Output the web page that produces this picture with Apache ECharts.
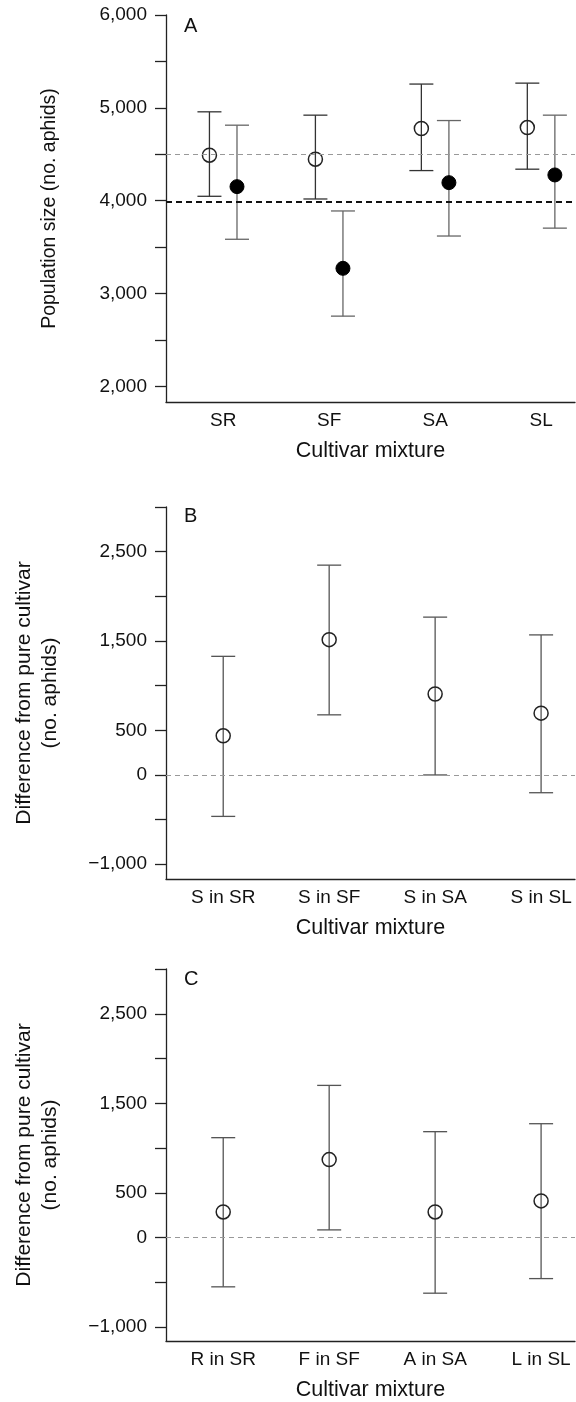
<!DOCTYPE html>
<html>
<head>
<meta charset="utf-8">
<script src="https://cdn.jsdelivr.net/npm/echarts@6/dist/echarts.min.js"></script>
<style>
  html, body { margin: 0; padding: 0; background: #fff; }
  #chart { width: 576px; height: 1402px; }
</style>
</head>
<body>
<div id="chart"></div>
<script>
// categories
const mixturesA = ["SR", "SF", "SA", "SL"];
const mixturesB = ["S in SR", "S in SF", "S in SA", "S in SL"];
const mixturesC = ["R in SR", "F in SF", "A in SA", "L in SL"];
const positions = [1, 2, 3, 4];

// panel A: open circles
const openMean = [4490, 4447, 4777, 4787];
const openLow = [4047, 4018, 4324, 4339];
const openHigh = [4957, 4921, 5256, 5266];
// panel A: filled circles
const filledMean = [4151, 3271, 4194, 4277];
const filledLow = [3584, 2756, 3619, 3704];
const filledHigh = [4813, 3889, 4863, 4921];
// panel A reference lines
const refGrayA = 4500;
const refBlackA = 3985;

// panel B
const diffBMean = [438, 1515, 906, 692];
const diffBLow = [-464, 673, 0, -199];
const diffBHigh = [1328, 2349, 1767, 1568];

// panel C
const diffCMean = [287, 871, 287, 410];
const diffCLow = [-550, 86, -621, -458];
const diffCHigh = [1116, 1700, 1183, 1272];

// tick values
const ticksA = [2000, 2500, 3000, 3500, 4000, 4500, 5000, 5500, 6000];
const labelsA = [2000, 3000, 4000, 5000, 6000];
const ticksBC = [-1000, -500, 0, 500, 1000, 1500, 2000, 2500, 3000];
const labelsBC = [-1000, 0, 500, 1500, 2500];

const FONT = "Liberation Sans, Arial, sans-serif";
const AXIS = "#222";

const chart = echarts.init(document.getElementById("chart"));

function fmt(v) {
  return (v < 0 ? "\u2212" : "") + Math.abs(v).toLocaleString("en-US");
}

function xAxisFor(idx, names) {
  return {
    type: "value",
    gridIndex: idx,
    min: 0.46,
    max: 4.32,
    splitLine: { show: false },
    axisLine: { onZero: false, lineStyle: { color: AXIS, width: 1.3 } },
    axisTick: { show: false },
    axisLabel: {
      customValues: positions,
      formatter: (v) => names[Math.round(v) - 1],
      color: "#111",
      fontSize: 19,
      fontFamily: FONT,
      margin: 9,
    },
    name: "Cultivar mixture",
    nameLocation: "middle",
    nameGap: 38,
    nameTextStyle: { color: "#111", fontSize: 21.5, fontFamily: FONT },
  };
}

function yAxisFor(idx, min, max, ticks, labels, name, size) {
  return {
    type: "value",
    gridIndex: idx,
    min: min,
    max: max,
    splitLine: { show: false },
    axisLine: { show: true, onZero: false, lineStyle: { color: AXIS, width: 1.3 } },
    axisTick: {
      show: true,
      customValues: ticks,
      length: 11,
      lineStyle: { color: AXIS, width: 1.3 },
    },
    axisLabel: {
      customValues: labels,
      formatter: fmt,
      color: "#111",
      fontSize: 19,
      fontFamily: FONT,
      margin: 19,
    },
    name: name,
    nameLocation: "middle",
    nameGap: 103,
    nameTextStyle: { color: "#111", fontSize: size, fontFamily: FONT, lineHeight: 26 },
  };
}

// vertical whiskers with caps
function errorBars(gi, xs, lo, hi, color) {
  return {
    type: "custom",
    xAxisIndex: gi,
    yAxisIndex: gi,
    silent: true,
    z: 2,
    data: xs.map((x, i) => [x, lo[i], hi[i]]),
    encode: { x: 0, y: [1, 2] },
    renderItem: (params, api) => {
      const x = api.value(0);
      const top = api.coord([x, api.value(2)]);
      const bot = api.coord([x, api.value(1)]);
      const w = 12;
      const style = { stroke: color, lineWidth: 1.3 };
      return {
        type: "group",
        children: [
          { type: "line", shape: { x1: top[0], y1: top[1], x2: bot[0], y2: bot[1] }, style },
          { type: "line", shape: { x1: top[0] - w, y1: top[1], x2: top[0] + w, y2: top[1] }, style },
          { type: "line", shape: { x1: bot[0] - w, y1: bot[1], x2: bot[0] + w, y2: bot[1] }, style },
        ],
      };
    },
  };
}

function points(gi, xs, ys, filled, markLine) {
  const s = {
    type: "scatter",
    xAxisIndex: gi,
    yAxisIndex: gi,
    symbol: "circle",
    symbolSize: 14,
    z: 3,
    data: xs.map((x, i) => [x, ys[i]]),
    itemStyle: filled
      ? { color: "#000", borderColor: "#000", borderWidth: 1, opacity: 1 }
      : { color: "rgba(0,0,0,0)", borderColor: "#222", borderWidth: 1.5, opacity: 1 },
  };
  if (markLine) s.markLine = markLine;
  return s;
}

function dashed(value, color, width, dash) {
  return { yAxis: value, lineStyle: { color: color, width: width, type: dash } };
}

const markBase = { symbol: ["none", "none"], silent: true, label: { show: false }, animation: false };

const xsOpen = positions.map((p) => p - 0.13);
const xsFilled = positions.map((p) => p + 0.13);

const option = {
  animation: false,
  backgroundColor: "#fff",
  grid: [
    { left: 166, width: 409, top: 15, height: 387 },
    { left: 166, width: 409, top: 507, height: 372 },
    { left: 166, width: 409, top: 969, height: 375 },
  ],
  xAxis: [xAxisFor(0, mixturesA), xAxisFor(1, mixturesB), xAxisFor(2, mixturesC)],
  yAxis: [
    yAxisFor(0, 1831, 6000, ticksA, labelsA, "Population size (no. aphids)", 19.5),
    yAxisFor(1, -1165, 3000, ticksBC, labelsBC, "Difference from pure cultivar\n(no. aphids)", 21),
    yAxisFor(2, -1155, 3000, ticksBC, labelsBC, "Difference from pure cultivar\n(no. aphids)", 21),
  ],
  graphic: [
    { type: "text", left: 184, top: 16, style: { text: "A", fontSize: 20, fontFamily: FONT, fill: "#111" } },
    { type: "text", left: 184, top: 506, style: { text: "B", fontSize: 20, fontFamily: FONT, fill: "#111" } },
    { type: "text", left: 184, top: 969, style: { text: "C", fontSize: 20, fontFamily: FONT, fill: "#111" } },
  ],
  series: [
    errorBars(0, xsOpen, openLow, openHigh, "#333"),
    errorBars(0, xsFilled, filledLow, filledHigh, "#666"),
    points(0, xsOpen, openMean, false),
    points(0, xsFilled, filledMean, true,
      Object.assign({}, markBase, {
        data: [dashed(refGrayA, "#999", 1.2, [5, 4]), dashed(refBlackA, "#111", 1.8, [6, 4])],
      })),

    errorBars(1, positions, diffBLow, diffBHigh, "#555"),
    points(1, positions, diffBMean, false,
      Object.assign({}, markBase, { data: [dashed(0, "#999", 1.2, [5, 4])] })),

    errorBars(2, positions, diffCLow, diffCHigh, "#555"),
    points(2, positions, diffCMean, false,
      Object.assign({}, markBase, { data: [dashed(0, "#999", 1.2, [5, 4])] })),
  ],
};

chart.setOption(option);
</script>
</body>
</html>
